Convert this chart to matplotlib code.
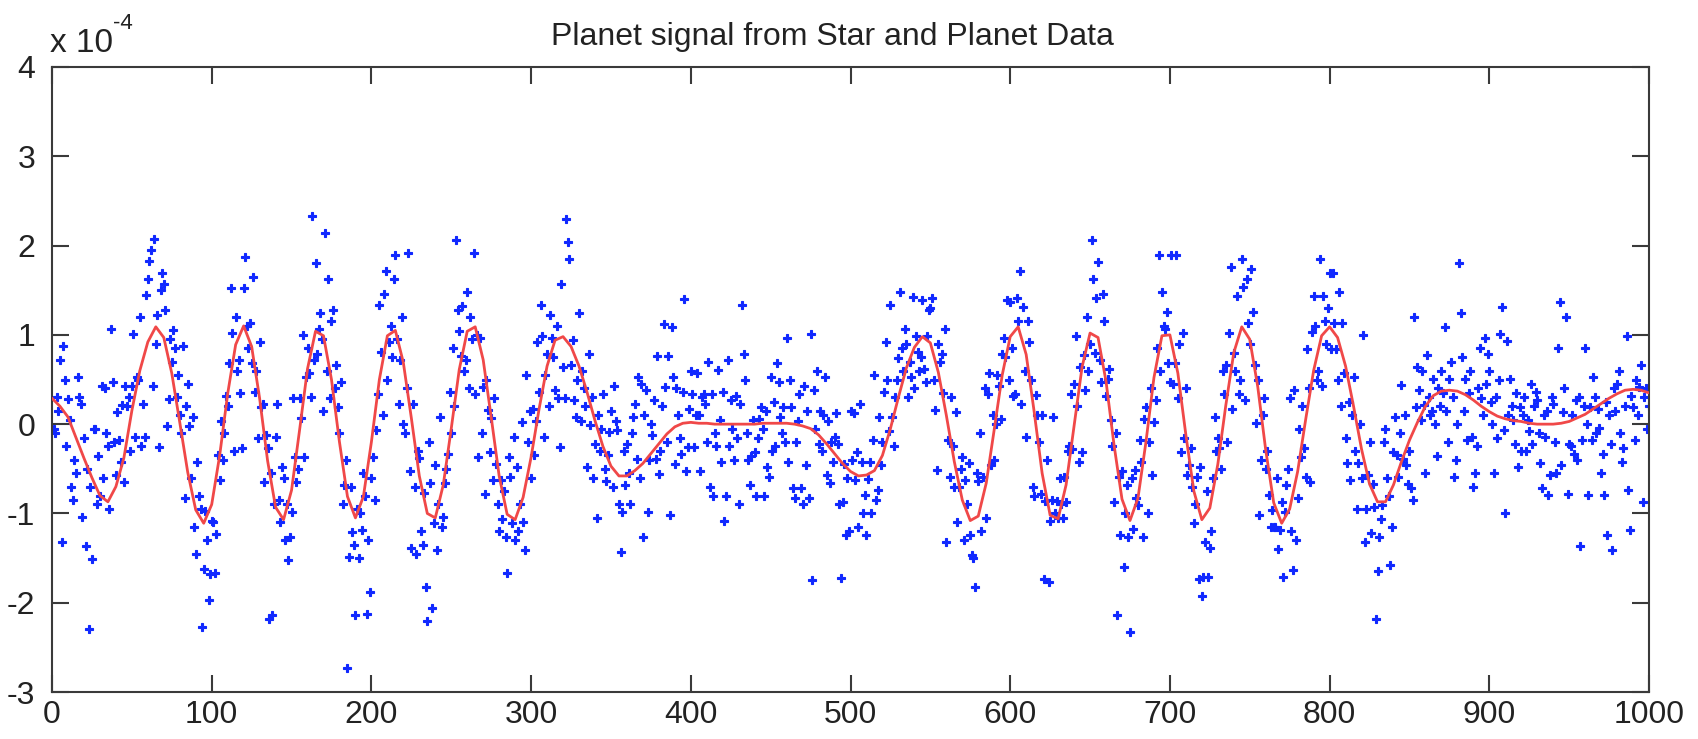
import numpy as np
import matplotlib
matplotlib.use("Agg")
import matplotlib.pyplot as plt

plt.rcParams['font.family'] = ['Liberation Sans', 'DejaVu Sans']
plt.rcParams['axes.unicode_minus'] = False

# Title / labels
title = "Planet signal from Star and Planet Data"
x_ticks = [0, 100, 200, 300, 400, 500, 600, 700, 800, 900, 1000]
y_ticks = [-3, -2, -1, 0, 1, 2, 3, 4]

# Red fitted signal (units of 1e-4), sampled every 5 samples from 0 to 1000
curve_step = 5
curve = [
    0.29, 0.20, 0.08, -0.15, -0.38, -0.60, -0.80, -0.87, -0.70, -0.38,
    0.15, 0.60, 0.92, 1.09, 0.97, 0.57, 0.02, -0.54, -0.96, -1.11,
    -0.90, -0.35, 0.34, 0.89, 1.10, 0.87, 0.29, -0.41, -0.93, -1.07,
    -0.74, -0.07, 0.62, 1.04, 0.99, 0.50, -0.20, -0.81, -1.05, -0.81,
    -0.20, 0.50, 0.99, 1.05, 0.69, 0.07, -0.58, -1.00, -1.05, -0.68,
    -0.05, 0.61, 1.04, 1.09, 0.72, 0.08, -0.58, -1.01, -1.07, -0.82,
    -0.37, 0.17, 0.65, 0.94, 0.98, 0.87, 0.65, 0.36, 0.04, -0.25,
    -0.47, -0.58, -0.58, -0.52, -0.44, -0.33, -0.22, -0.11, -0.03, 0.01,
    0.02, 0.01, 0.01, 0.00, 0.00, 0.00, 0.00, 0.00, 0.00, 0.01,
    0.01, 0.01, 0.01, 0.00, -0.02, -0.05, -0.12, -0.22, -0.33, -0.44,
    -0.53, -0.58, -0.57, -0.52, -0.35, -0.05, 0.30, 0.63, 0.86, 0.98,
    0.91, 0.58, 0.10, -0.42, -0.85, -1.08, -1.03, -0.66, -0.06, 0.55,
    0.98, 1.09, 0.78, 0.14, -0.55, -1.02, -1.06, -0.68, -0.02, 0.64,
    1.02, 0.97, 0.48, -0.23, -0.84, -1.08, -0.83, -0.20, 0.52, 0.99,
    1.00, 0.57, -0.12, -0.75, -1.07, -0.94, -0.45, 0.21, 0.80, 1.09,
    0.95, 0.42, -0.29, -0.88, -1.11, -0.95, -0.53, 0.05, 0.60, 0.99,
    1.09, 0.97, 0.65, 0.20, -0.28, -0.67, -0.87, -0.87, -0.68, -0.42,
    -0.18, 0.02, 0.20, 0.32, 0.37, 0.38, 0.37, 0.33, 0.27, 0.20,
    0.14, 0.09, 0.06, 0.04, 0.03, 0.01, 0.00, 0.00, 0.00, 0.01,
    0.03, 0.07, 0.11, 0.17, 0.23, 0.29, 0.34, 0.38, 0.39, 0.38,
    0.35,
]

# Measured data points (units of 1e-4), samples 1..1000 in blocks of 100
s000 = [
    -0.05, -0.1, 0.3, 0.15, 0.72, -1.32, 0.87, 0.49, -0.25, 0.28,
    0.05, -0.7, -0.85, -0.4, -0.55, 0.53, 0.3, 0.23, -1.04, -0.15,
    -1.36, -0.5, -2.29, -0.7, -1.51, -0.05, -0.05, -0.9, -0.36, -0.8,
    0.43, -0.6, 0.4, -0.1, -0.25, -0.95, 1.07, 0.47, -0.2, -0.57,
    0.14, -0.18, -0.42, 0.21, -0.65, 0.43, 0.2, 0.3, -0.3, 0.43,
    1.01, -0.14, 0.53, 0.5, 1.2, -0.25, 0.23, -0.14, 1.45, 1.63,
    1.83, 1.95, 0.43, 2.07, 0.9, 1.22, -0.26, 1.5, 1.69, 1.57,
    1.28, -0.02, 0.28, 0.95, 0.7, 1.05, 0.85, 0.3, 0.55, 0.1,
    -0.1, 0.88, -0.83, 0.2, 0.45, -0.02, -0.6, 0.08, -1.15, -1.45,
    -0.42, -0.8, -0.95, -2.27, -1.62, -0.97, -1.3, -1.97, -1.68, -1.08,
]
s100 = [
    -1.1, -1.67, -1.23, -0.35, -0.63, 0.04, -0.4, -0.1, 0.31, 0.2,
    0.68, 1.52, 1.02, -0.3, 1.2, 0.59, 0.72, 0.35, -0.27, 1.52,
    1.87, 1.1, 0.85, 1.13, 0.68, 1.65, 0.36, 0.6, -0.16, 0.92,
    0.19, 0.23, -0.65, -0.12, -0.27, -2.18, -0.55, -2.14, -0.9, -0.14,
    0.23, -0.85, -1.1, -0.48, -0.6, -1.3, -0.9, -1.52, -1.26, -0.98,
    0.29, -0.37, -0.65, -0.5, 0.29, 0.07, 1.0, -0.37, 0.53, 0.85,
    0.57, 0.3, 2.33, 0.72, 1.8, 0.79, 1.07, 1.24, 0.95, 0.15,
    2.14, 0.6, 1.63, 0.29, 1.16, 1.28, 0.4, 0.66, 0.19, -0.1,
    0.47, -0.89, -0.68, -0.4, -2.73, -1.49, -0.7, -1.21, -1.35, -2.14,
    -0.95, -1.5, -1.0, -1.19, -0.55, -0.8, -2.13, -1.3, -1.88, -0.6,
]
s200 = [
    -0.37, -0.85, -0.07, 0.34, 1.33, 0.81, 0.1, 1.46, 1.72, 0.5,
    0.92, 1.1, 0.75, 1.63, 1.89, 0.95, 0.23, 0.72, 1.2, 0.0,
    -0.1, 0.4, 1.92, -0.53, -1.39, 0.23, -0.7, -1.45, -0.3, -0.38,
    -1.2, -1.35, -0.77, -1.82, -2.2, -0.2, -0.66, -2.06, -1.11, -0.46,
    -1.41, -0.9, 0.08, -1.15, -1.04, -0.66, -0.5, -0.33, 0.36, -0.1,
    0.85, 0.2, 2.06, 1.28, 1.04, 0.76, 1.32, 0.6, 0.72, 1.48,
    0.4, 1.2, 0.95, 1.92, 0.34, 1.0, -0.37, 0.97, -0.1, 0.42,
    -0.78, 0.5, 0.16, -0.31, 0.07, -0.63, 0.29, -0.45, -0.9, -1.2,
    -0.63, -1.06, -0.75, -1.26, -1.67, -0.37, -0.59, -1.11, -0.14, -1.3,
    -0.48, -1.2, -0.89, 0.02, -1.1, -1.41, 0.55, -0.2, 0.15, -0.6,
]
s300 = [
    0.17, -0.35, 0.04, 0.92, 0.36, 1.34, 0.99, -0.14, 0.55, 0.79,
    0.2, 1.22, 0.96, 0.75, 0.38, 1.1, 0.29, -0.26, 1.57, 0.64,
    0.29, 2.3, 2.04, 1.85, 0.66, 0.94, 0.27, 0.08, 0.5, 1.24,
    0.04, 0.6, 0.4, 0.2, -0.48, 0.79, -0.01, 0.3, -0.6, -0.22,
    -1.05, 0.1, -0.3, -0.05, 0.34, -0.5, -0.64, -0.35, -0.09, 0.15,
    -0.7, 0.43, 0.04, -0.07, -0.9, -1.43, -0.98, -0.3, -0.68, -0.22,
    -0.55, -0.9, -0.1, 0.08, 0.23, -0.39, 0.53, -0.6, 0.45, -1.26,
    0.1, 0.38, -0.98, -0.4, 0.0, -0.12, 0.27, -0.39, 0.76, -0.56,
    -0.3, 0.2, 1.12, 0.42, -0.2, 0.76, -1.02, 1.09, 0.53, -0.45,
    0.4, 0.1, -0.16, -0.33, 0.36, 1.4, -0.53, -0.26, 0.17, 0.6,
]
s400 = [
    0.34, -0.26, 0.1, 0.57, 0.1, -0.52, 0.3, 0.34, 0.23, -0.2,
    0.7, -0.7, 0.34, -0.8, -0.1, -0.24, 0.61, 0.05, -0.42, 0.36,
    -1.09, -0.8, 0.72, -0.24, 0.27, -0.05, -0.4, 0.32, -0.15, -0.89,
    0.23, 1.33, 0.79, 0.49, -0.1, -0.4, -0.68, -0.36, 0.05, -0.31,
    -0.8, -0.16, 0.06, 0.19, -0.05, -0.8, 0.15, -0.48, -0.59, 0.53,
    -0.3, 0.25, -0.24, 0.68, 0.47, 0.08, -0.1, 0.19, -0.2, 0.96,
    -0.42, 0.49, 0.19, -0.72, -0.83, -0.2, 0.04, 0.34, -0.72, -0.89,
    0.43, -0.46, 0.15, -0.83, 1.01, -1.74, 0.38, -0.05, 0.59, -0.22,
    0.15, -0.3, 0.1, 0.53, -0.57, 0.04, -0.66, -0.2, -0.42, -0.14,
    0.13, -0.22, -0.9, -1.72, -0.87, -0.45, -1.24, -0.6, -1.2, 0.15,
]
s500 = [
    -0.4, 0.12, -0.63, -0.31, -1.15, 0.23, -0.42, -1.0, -0.79, -1.24,
    -0.62, -0.42, -1.0, -0.18, 0.55, -0.85, -0.74, 0.08, -0.46, -0.2,
    0.36, 0.92, 0.49, -0.08, 1.33, 0.08, -0.25, 0.3, 0.5, 0.74,
    1.48, 0.85, 0.6, 1.07, 0.9, 0.3, 0.7, 0.53, 1.42, 0.4,
    0.99, 0.81, 0.6, 0.75, 1.39, 0.62, 0.47, 0.99, 1.28, 1.3,
    1.41, 0.49, 0.16, -0.51, 0.9, 0.7, 0.79, 0.35, 1.07, -1.32,
    -0.18, -0.59, 0.3, -0.25, -0.7, 0.14, -1.1, -0.7, -0.5, -0.37,
    -1.3, -0.63, -0.9, -0.44, -1.24, -1.46, -1.5, -1.82, -0.55, -0.64,
    -0.1, -1.2, -0.59, 0.4, -1.05, 0.34, 0.57, -0.46, 0.1, -0.4,
    0.0, 0.55, 0.43, 0.06, 0.79, 0.96, 0.75, 1.39, 0.5, 1.37,
]
s600 = [
    0.85, 0.31, 0.34, 1.41, 1.16, 1.72, 0.23, 1.31, 0.6, -0.14,
    1.16, 0.92, 0.49, -0.7, -0.8, 0.33, 0.1, -0.2, -0.78, 0.1,
    -1.73, -0.86, -0.4, -1.77, -1.08, -0.85, 0.08, -0.99, -0.86, -1.05,
    -0.6, -0.89, -1.05, -0.59, -0.87, -0.3, -0.25, 0.34, -0.28, 0.45,
    0.99, 0.2, -0.42, 0.64, -0.31, 0.77, 0.38, 1.2, 0.6, 0.9,
    2.06, 1.63, 0.8, 1.41, 1.82, 0.72, 0.47, 1.46, 1.15, 0.31,
    0.51, 0.62, 0.05, -0.25, -0.87, -0.1, -2.14, -0.59, -1.24, -0.53,
    -1.6, -0.99, -0.68, -1.26, -2.33, -0.6, -1.17, -0.51, -0.83, -0.91,
    -0.18, -0.42, -1.26, 0.06, 0.19, -1.0, -0.2, 0.4, -0.57, 0.02,
    0.27, 0.85, 1.89, 0.6, 1.48, 1.1, 1.07, 1.26, 0.69, 0.47,
]
s700 = [
    1.89, 0.45, 0.69, 1.89, 0.29, 0.9, -0.31, 1.02, -0.16, 0.4,
    -0.57, -0.46, -0.27, -0.7, -1.11, -0.89, -0.59, -1.73, -0.48, -1.93,
    -1.71, -1.32, -0.75, -1.71, -1.39, -1.2, -0.6, 0.08, -0.3, -0.16,
    -0.27, -0.5, 0.59, 0.34, 0.66, -0.2, 1.02, 1.76, 0.17, 0.8,
    0.6, 1.44, 0.34, 0.49, 1.85, 1.54, 0.27, 1.63, 1.13, 0.9,
    1.74, 1.26, 0.66, 0.01, 0.5, -1.02, -0.4, 0.1, 0.29, -0.5,
    -0.3, -0.79, -1.15, -0.96, -1.15, -1.15, -0.6, -1.4, -1.19, -0.87,
    -1.71, -0.98, -0.68, -0.5, 0.29, -1.2, -1.63, 0.38, -1.3, -0.83,
    -0.05, -0.37, 0.2, -0.27, -0.59, 0.84, 0.4, -0.65, 1.03, 1.44,
    1.1, 0.5, 0.6, 1.85, 0.43, 1.44, 1.16, 0.9, 1.3, 1.69,
]
s800 = [
    0.84, 1.69, 1.13, 0.84, 0.5, 1.48, 0.2, 1.13, 0.57, -0.16,
    -0.43, 0.25, -0.63, 0.1, 0.53, -0.3, -0.95, -0.44, 0.0, -0.6,
    1.0, -1.32, -0.95, -0.57, -0.2, -1.22, -0.67, -0.93, -2.18, -1.65,
    -1.26, -1.06, -0.91, -0.2, -0.05, -0.6, -0.8, -1.58, -1.15, -0.31,
    0.08, -0.35, -0.59, -0.1, 0.44, -0.39, 0.1, -0.46, -0.67, -0.3,
    -0.72, -0.85, 1.2, 0.19, 0.64, 0.38, 0.05, 0.6, 0.21, -0.55,
    0.77, 0.3, 0.1, 0.15, 0.51, 0.0, -0.36, 0.4, 0.2, 0.6,
    0.35, 1.09, 0.15, -0.2, 0.51, 0.7, 0.3, -0.59, -0.4, 0.0,
    1.8, 1.24, 0.75, 0.15, 0.51, -0.18, 0.35, 0.6, -0.14, -0.7,
    -0.55, -0.25, 0.4, 0.85, 0.29, 0.1, 0.96, 0.45, 0.79, 0.59,
]
s900 = [
    0.25, 0.0, -0.55, 0.3, -0.16, 0.5, 1.01, 1.31, -0.07, -1.0,
    0.93, 0.1, 0.51, 0.2, 0.05, -0.22, 0.35, -0.48, 0.19, -0.3,
    0.1, 0.3, -0.3, 0.05, -0.08, 0.45, -0.22, 0.2, 0.36, 0.27,
    -0.1, -0.43, -0.72, 0.1, -0.14, 0.15, -0.79, -0.57, 0.3, 0.23,
    -0.2, -0.55, 0.85, 1.37, -0.46, 0.14, 0.4, 1.2, -0.78, -0.22,
    -0.24, 0.1, -0.33, 0.27, -0.4, 0.3, -1.37, -0.18, 0.2, 0.85,
    0.0, -0.79, 0.19, -0.18, 0.53, 0.3, -0.1, 0.17, -0.04, -0.55,
    -0.33, -0.79, 0.25, -1.24, 0.1, -0.22, -1.41, 0.4, 0.15, 0.45,
    0.6, -0.1, -0.42, -0.27, 0.2, 0.99, -0.74, -1.19, 0.31, 0.19,
    -0.18, 0.5, 0.1, 0.42, 0.66, -0.87, 0.3, 0.4, -0.05, 0.2,
]

points = np.concatenate([s000, s100, s200, s300, s400, s500, s600, s700, s800, s900])
x_pts = np.arange(1, len(points) + 1)
x_curve = np.arange(len(curve)) * curve_step

W, H = 1698, 739
fig = plt.figure(figsize=(W / 100, H / 100), dpi=100)
ax = fig.add_axes([52 / W, 1 - 692 / H, (1649 - 52) / W, (692 - 67) / H])

ax.plot(x_pts, points, linestyle='none', marker='P', markersize=6.0,
        markeredgewidth=0.8, markeredgecolor='#1028ff', color='#1028ff', zorder=2)
ax.plot(x_curve, curve, color='#f04848', linewidth=2.0, zorder=3,
        solid_joinstyle='round', solid_capstyle='round')

ax.set_xlim(0, 1000)
ax.set_ylim(-3, 4)
ax.set_xticks(x_ticks)
ax.set_yticks(y_ticks)
ax.set_xticklabels([str(v) for v in x_ticks])
ax.set_yticklabels([str(v) for v in y_ticks])

axis_col = '#3a3a3a'
for sp in ax.spines.values():
    sp.set_color(axis_col)
    sp.set_linewidth(1.5)
ax.tick_params(axis='both', direction='in', length=12, width=1.5, color=axis_col,
               top=True, right=True, labelsize=23, labelcolor='#222222')
ax.tick_params(axis='x', pad=6)
ax.tick_params(axis='y', pad=12)

fig.text(832 / W, 1 - 45 / H, title, fontsize=23, color='#222222',
         ha='center', va='baseline')
fig.text(50 / W, 1 - 52 / H, 'x 10', fontsize=24, color='#222222',
         ha='left', va='baseline')
fig.text(113 / W, 1 - 29 / H, '-4', fontsize=16, color='#222222',
         ha='left', va='baseline')

fig.savefig('out.png', dpi=100)
